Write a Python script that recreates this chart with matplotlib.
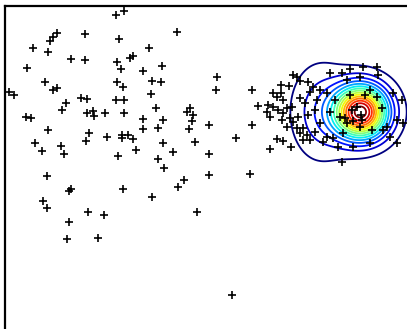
import numpy as np
import matplotlib
matplotlib.use('Agg')
import matplotlib.pyplot as plt

# scattered samples (x, y) -- y grows downward
pts_x = [116, 124, 57, 53, 50, 85, 177, 119, 33, 48, 149, 130, 133, 71, 85, 117, 121, 27,
         143, 162, 45, 53, 57, 117, 123, 152, 161, 9, 14, 151, 81, 87, 116, 124, 66, 62,
         156, 190, 187, 193, 192, 189, 87, 93, 94, 105, 124, 26, 31, 143, 163, 143, 158,
         48, 89, 86, 107, 122, 128, 122, 133, 136, 163, 195, 35, 42, 61, 64, 118, 158, 173,
         47, 164, 209, 250, 184, 178, 69, 71, 123, 152, 43, 47, 88, 104, 197, 69, 67, 98, 232,
         217, 216, 252, 258, 209, 252, 236, 209,
         270, 277, 283, 291, 293, 297, 300, 281, 289, 273, 277, 281, 283, 268, 273, 267,
         270, 278, 283, 287, 292, 282, 290, 293, 298, 287, 297, 303, 300, 307, 310, 303,
         308, 305, 300, 310, 313, 308, 317, 315, 320, 320, 327, 315, 323,
         330, 342, 350, 363, 377, 360, 378, 347, 393, 402, 335, 330, 340, 357, 352, 361,
         345, 362, 353, 347, 360, 343, 333, 327, 338, 353, 370, 387, 397, 390, 383, 342,
         397, 403, 382, 377, 370, 365, 350, 372]
pts_y = [15, 11, 33, 37, 41, 34, 32, 39, 48, 52, 48, 58, 56, 59, 60, 62, 69, 68,
         71, 66, 82, 90, 88, 82, 87, 81, 82, 92, 95, 94, 98, 99, 100, 100, 103, 110,
         108, 108, 112, 115, 121, 129, 113, 111, 116, 113, 113, 117, 118, 119, 120, 129, 128,
         130, 133, 141, 137, 135, 135, 138, 139, 150, 143, 142, 143, 151, 146, 154, 156, 159, 152,
         176, 168, 175, 174, 180, 187, 191, 189, 189, 197, 201, 208, 212, 215, 212, 222, 239, 238, 295,
         77, 90, 90, 106, 125, 125, 138, 154,
         149, 139, 141, 147, 75, 77, 81, 85, 86, 93, 97, 93, 100, 105, 107, 112,
         117, 110, 113, 108, 107, 120, 118, 122, 117, 127, 128, 128, 133, 135, 140, 140,
         115, 103, 98, 92, 87, 82, 100, 110, 123, 90, 93, 132, 142,
         73, 73, 69, 67, 67, 77, 75, 80, 93, 100, 100, 112, 117, 107, 110, 115,
         118, 120, 121, 123, 127, 133, 138, 137, 147, 147, 143, 127, 143, 137, 130, 162,
         120, 123, 108, 97, 90, 95, 95, 130]

# density model drawn as contours: two gaussian components
peak_center = (361, 112)
peak_sigma = (18, 18)
peak_weight = 1.0
broad_center = (321, 112)
broad_sigma = (19, 30)
broad_weight = 0.145
levels = np.linspace(0.04, 0.97, 15)


def gauss(X, Y, c, s):
    return np.exp(-0.5 * (((X - c[0]) / s[0]) ** 2 + ((Y - c[1]) / s[1]) ** 2))


fig = plt.figure(figsize=(4.07, 3.29), dpi=100)
ax = fig.add_axes([5 / 407, -20 / 329, 415 / 407, 343 / 329])

ax.plot(pts_x, pts_y, '+', color='black', ms=5.5, mew=1.2, zorder=3)

gx = np.linspace(250, 430, 400)
gy = np.linspace(30, 200, 400)
X, Y = np.meshgrid(gx, gy)
Z = peak_weight * gauss(X, Y, peak_center, peak_sigma) + \
    broad_weight * gauss(X, Y, broad_center, broad_sigma)
ax.contour(X, Y, Z, levels=levels, cmap='jet', linewidths=1.3, zorder=2)

ax.set_xlim(5, 420)
ax.set_ylim(349, 6)
ax.set_xticks([])
ax.set_yticks([])
for s in ax.spines.values():
    s.set_linewidth(1.6)

fig.savefig('out.png', dpi=100)
